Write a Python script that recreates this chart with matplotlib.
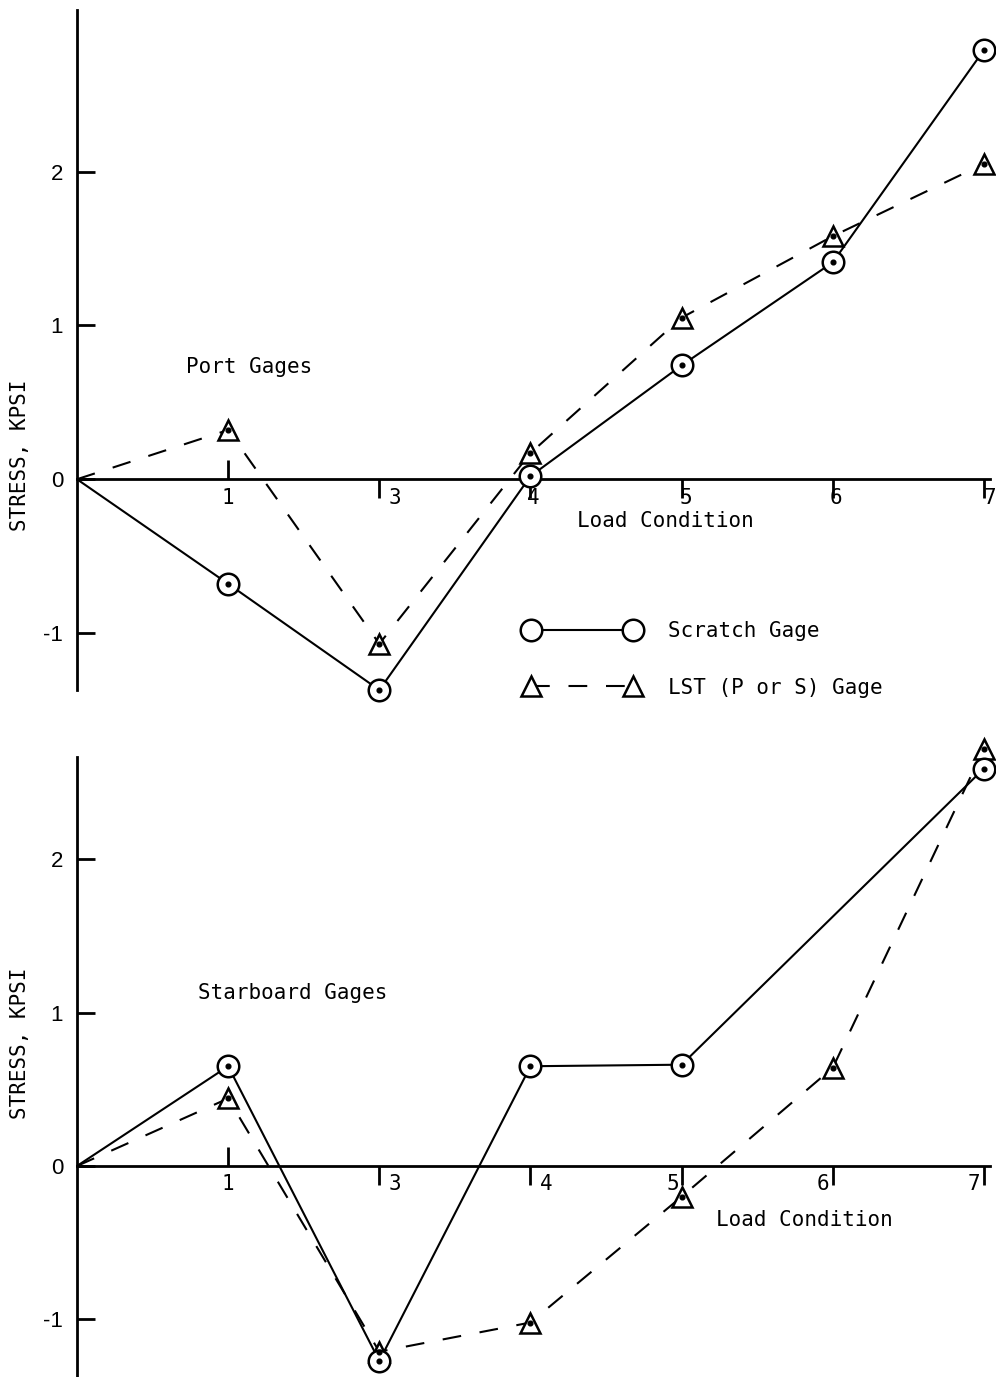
import matplotlib
matplotlib.use('Agg')
import matplotlib.pyplot as plt
from matplotlib.lines import Line2D
import matplotlib.lines as mlines

# ---------------- data ----------------
load_conditions = [1, 3, 4, 5, 6, 7]
x_labels = ['1', '3', '4', '5', '6', '7']
y_ticks = [-1, 0, 1, 2]
y_tick_labels = ['-1', '0', '1', '2']

# Port gages (condition 0 = origin)
port_scratch_cond = [0, 1, 3, 4, 5, 6, 7]
port_scratch_val = [0.0, -0.68, -1.37, 0.02, 0.74, 1.41, 2.79]
port_lst_cond = [0, 1, 3, 4, 5, 6, 7]
port_lst_val = [0.0, 0.32, -1.07, 0.17, 1.05, 1.58, 2.05]

# Starboard gages
stbd_scratch_cond = [0, 1, 3, 4, 5, 7]
stbd_scratch_val = [0.0, 0.65, -1.27, 0.65, 0.66, 2.59]
stbd_lst_cond = [0, 1, 3, 4, 5, 6, 7]
stbd_lst_val = [0.0, 0.44, -1.21, -1.02, -0.20, 0.64, 2.72]

legend_labels = ['Scratch Gage', 'LST (P or S) Gage']
panel_titles = ['Port Gages', 'Starboard Gages']
x_title = 'Load Condition'
y_title = 'STRESS, KPSI'

# ---------------- style ----------------
MONO = 'DejaVu Sans Mono'
NUMF = 'Liberation Sans'
LW = 1.5
AXLW = 2.0
W, H = 996, 1377

pos = {0: 0}
pos.update({c: i + 1 for i, c in enumerate(load_conditions)})

fig = plt.figure(figsize=(W / 100, H / 100), dpi=100)
ax1 = fig.add_axes([77 / W, 1 - 690 / H, (990 - 77) / W, (690 - 10) / H])
ax2 = fig.add_axes([77 / W, 0.0, (990 - 77) / W, (H - 757) / H])


def draw_series(ax, cond, val, kind):
    xs = [pos[c] for c in cond]
    if kind == 'scratch':
        ax.plot(xs, val, color='k', lw=LW, solid_capstyle='round', zorder=2, clip_on=False)
        ax.plot(xs[1:], val[1:], ls='none', marker='o', ms=15.5, mfc='white', mec='k',
                mew=1.8, zorder=4, clip_on=False)
    else:
        ax.plot(xs, val, color='k', lw=LW, dashes=(9, 9), zorder=2, clip_on=False)
        ax.plot(xs[1:], val[1:], ls='none', marker='^', ms=14.5, mfc='white', mec='k',
                mew=1.8, zorder=3, clip_on=False)
    ax.plot(xs[1:], val[1:], ls='none', marker='o', ms=3.4, color='k', zorder=5, clip_on=False)


def setup(ax, ylim, label_dx, label_y_frac, title, title_xy, xt_xy):
    ax.set_xlim(0, 6.04)
    ax.set_ylim(*ylim)
    for s in ['top', 'right']:
        ax.spines[s].set_visible(False)
    ax.spines['bottom'].set_position(('data', 0))
    ax.spines['bottom'].set_linewidth(AXLW)
    ax.spines['left'].set_linewidth(AXLW)
    ax.set_yticks(y_ticks)
    ax.set_yticklabels(y_tick_labels, fontfamily=NUMF, fontsize=16)
    ax.tick_params(axis='y', direction='in', length=13, width=AXLW, pad=10)
    ax.set_xticks([pos[c] for c in load_conditions])
    ax.set_xticklabels([''] * len(load_conditions))
    ax.tick_params(axis='x', direction='out', length=14, width=AXLW)
    ticks = ax.xaxis.get_major_ticks()
    ticks[0].tick1line.set_marker(mlines.TICKUP)
    for c, lab, dx in zip(load_conditions, x_labels, label_dx):
        ax.annotate(lab, xy=(pos[c], 0), xytext=(dx, -6), textcoords='offset points',
                    ha='center', va='top', fontfamily=MONO, fontsize=15)
    ax.set_ylabel(y_title, fontfamily=MONO, fontsize=15)
    ax.yaxis.set_label_coords(-47 / 913, label_y_frac)
    ax.text(title_xy[0], title_xy[1], title, fontfamily=MONO, fontsize=15, va='center')
    ax.text(xt_xy[0], xt_xy[1], x_title, fontfamily=MONO, fontsize=15, va='center')


draw_series(ax1, port_scratch_cond, port_scratch_val, 'scratch')
draw_series(ax1, port_lst_cond, port_lst_val, 'lst')
draw_series(ax2, stbd_scratch_cond, stbd_scratch_val, 'scratch')
draw_series(ax2, stbd_lst_cond, stbd_lst_val, 'lst')

setup(ax1, (-1.37, 3.05), [0, 11, 2, 3, 2, 4], (690 - 455) / 680, panel_titles[0],
      (0.72, 0.73), (3.31, -0.27))
setup(ax2, (-1.375, 2.665), [0, 11, 11, -6, -7, -7], (H - 1043) / 620, panel_titles[1],
      (0.80, 1.13), (4.23, -0.35))

handles = [
    Line2D([], [], color='k', lw=LW, marker='o', ms=15.5, mfc='white', mec='k', mew=1.8),
    Line2D([], [], color='k', lw=LW, dashes=(9, 9), marker='^', ms=14.5, mfc='white', mec='k', mew=1.8),
]
ax1.legend(handles, legend_labels, loc='center left', bbox_to_anchor=(2.96, -1.172),
           bbox_transform=ax1.transData, frameon=False, numpoints=2,
           handlelength=5.5, handletextpad=1.4, labelspacing=1.75, borderpad=0,
           borderaxespad=0, prop={'family': MONO, 'size': 15})

fig.savefig('out.png', dpi=100)
